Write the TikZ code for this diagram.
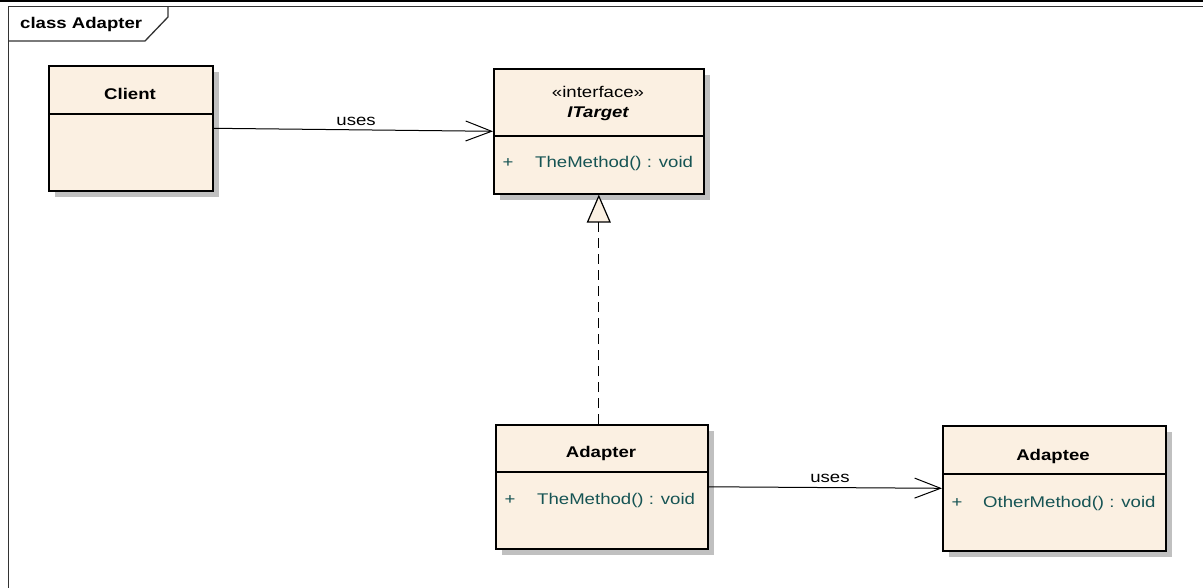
\documentclass[tikz,border=0pt]{standalone}
\usepackage{fontspec}
\setmainfont{Liberation Sans}[FakeStretch=1.2]
\usetikzlibrary{arrows.meta,shadows,calc}
\definecolor{cream}{RGB}{251,240,226}
\definecolor{shadowgray}{RGB}{192,192,192}
\definecolor{methodc}{RGB}{22,84,84}
\newcommand{\diafont}{\fontsize{15.5}{18}\selectfont}
\tikzset{
  umlbox/.style={draw=black, line width=1.6pt, fill=cream, anchor=north west, inner sep=0pt,
    drop shadow={shadow xshift=6pt, shadow yshift=-6pt, fill=shadowgray, opacity=1}},
  divider/.style={line width=1.6pt},
  title/.style={font=\diafont\bfseries, text=black, inner sep=0pt},
  meth/.style={text=methodc, inner sep=0pt, anchor=west},
  uses/.style={line width=1pt, -{Straight Barb[length=26pt,width=20pt,line width=1pt]}},
  realize/.style={line width=1pt, dash pattern=on 10pt off 6pt,
    -{Triangle[open, length=28pt, width=24pt, line width=1.2pt, fill=cream]}},
  lbl/.style={inner sep=0pt, text=black}
}
\begin{document}
\begin{tikzpicture}[x=1pt,y=-1pt, font=\diafont]
\useasboundingbox (0,0) rectangle (1203,588);
% frame
\fill[black] (0,0) rectangle (1203,2.5);
\draw[line width=1.3pt, draw=black!80] (8.5,588) -- (8.5,6.5) -- (1203,6.5);
\draw[line width=1.3pt, draw=black!80] (8.5,41) -- (145,41) -- (168,17) -- (168,6.5);
\node[title, anchor=west] (frametitle) at (20,24) {class Adapter};

% Client
\node[umlbox, minimum width=164pt, minimum height=125pt] (client) at (48,65) {};
\draw[divider] (client.north west |- 0,114) -- (client.north east |- 0,114);
\node[title] (clientname) at (130,94) {Client};

% ITarget
\node[umlbox, minimum width=210pt, minimum height=125pt] (itarget) at (493,68) {};
\draw[divider] (itarget.north west |- 0,136) -- (itarget.north east |- 0,136);
\node[lbl] (stereo) at (598,92) {«interface»};
\node[title, font=\diafont\bfseries\itshape] (itname) at (598,114) {ITarget};
\node[meth, anchor=center] (itplus) at (508,163) {+};
\node[meth] (itmeth) at (535,163) {TheMethod() : void};

% Adapter
\node[umlbox, minimum width=212pt, minimum height=124pt] (adapter) at (495,424) {};
\draw[divider] (adapter.north west |- 0,472) -- (adapter.north east |- 0,472);
\node[title] (adaptername) at (601,453) {Adapter};
\node[meth, anchor=center] (adplus) at (510,500) {+};
\node[meth] (admeth) at (537,500) {TheMethod() : void};

% Adaptee
\node[umlbox, minimum width=223pt, minimum height=125pt] (adaptee) at (942,425) {};
\draw[divider] (adaptee.north west |- 0,474) -- (adaptee.north east |- 0,474);
\node[title] (adapteename) at (1053,456) {Adaptee};
\node[meth, anchor=center] (aeplus) at (957,503) {+};
\node[meth] (aemeth) at (983,503) {OtherMethod() : void};

% connectors
\draw[uses] (client.east) -- node[lbl, above=4pt, pos=0.51] (uses1) {uses} (itarget.west);
\draw[uses] (adapter.east) -- node[lbl, above=4pt, pos=0.52] (uses2) {uses} (adaptee.west);
\draw[realize] (adapter.north -| itarget.south) -- (itarget.south);
\end{tikzpicture}
\end{document}
